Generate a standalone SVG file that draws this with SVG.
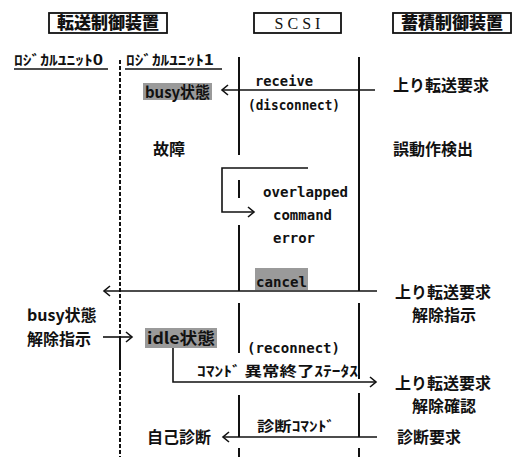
<svg xmlns="http://www.w3.org/2000/svg" width="523" height="457" viewBox="0 0 523 457">
<style>
.jp{font-family:"Noto Sans CJK JP","Noto Sans",sans-serif;font-weight:bold;font-size:16px;fill:#111}
.hd{font-family:"Noto Sans CJK JP",sans-serif;font-weight:900;font-size:17px;fill:#111}
.hk{font-family:"Noto Sans CJK JP",sans-serif;font-weight:bold;font-size:14px;fill:#111}
.mono{font-family:"DejaVu Sans Mono","Liberation Mono",monospace;font-size:14px;font-weight:bold;fill:#111}
.serif{font-family:"Liberation Serif",serif;font-size:16px;fill:#111}
.box{fill:#fff;stroke:#111;stroke-width:1.8}
.ln{fill:none;stroke:#111;stroke-width:1.6}
.life{fill:none;stroke:#111;stroke-width:2}
.dash{fill:none;stroke:#111;stroke-width:2;stroke-dasharray:4 2}
.hl{fill:#9a9a9a}
.conn{fill:none;stroke:#111;stroke-width:1.6;marker-end:url(#chev)}
</style>
<defs>
<marker id="chev" markerUnits="userSpaceOnUse" markerWidth="12" markerHeight="12" viewBox="-8 -6 10 12" refX="0" refY="0" orient="auto">
<path d="M-6,-5 L0,0 L-6,5" fill="none" stroke="#111" stroke-width="1.6"/>
</marker>
</defs>
<rect width="523" height="457" fill="#fff"/>

<g id="header-tensou">
<rect class="box" x="49" y="13" width="118" height="20"/>
<text class="hd" x="108" y="29" text-anchor="middle">転送制御装置</text>
</g>
<g id="header-scsi">
<rect class="box" x="254" y="13" width="87" height="20"/>
<text class="serif" x="297.5" y="29" text-anchor="middle">S C S I</text>
</g>
<g id="header-chikuseki">
<rect class="box" x="393" y="13" width="118" height="20"/>
<text class="hd" x="452" y="29" text-anchor="middle">蓄積制御装置</text>
</g>

<g id="lu0">
<text class="hk" x="14" y="65" textLength="89" lengthAdjust="spacingAndGlyphs">ﾛｼﾞｶﾙﾕﾆｯﾄ0</text>
<line class="ln" x1="14" y1="69" x2="108" y2="69"/>
</g>
<g id="lu1">
<text class="hk" x="126" y="65" textLength="88" lengthAdjust="spacingAndGlyphs">ﾛｼﾞｶﾙﾕﾆｯﾄ1</text>
<line class="ln" x1="125" y1="69" x2="222" y2="69"/>
</g>

<g id="lifelines">
<path class="dash" d="M120,60 V337 M120,366 V457"/>
<path class="life" d="M120,337 V366"/>
<path class="life" d="M239,57 V155 M239,180 V198 M239,225 V291 M239,303 V353 M239,395 V437 M239,448 V457"/>
<path class="life" d="M359,57 V291 M359,303 V379 M359,393 V437 M359,448 V457"/>
</g>

<g id="busy-state">
<rect class="hl" x="143" y="83" width="69" height="17"/>
<text class="jp" x="145" y="98" textLength="65" lengthAdjust="spacingAndGlyphs">busy状態</text>
</g>
<g id="req1"><text class="jp" x="393" y="91">上り転送要求</text></g>
<g id="fault"><text class="jp" x="153" y="155">故障</text></g>
<g id="misop"><text class="jp" x="393" y="155">誤動作検出</text></g>
<g id="cancel-state">
<rect class="hl" x="255" y="268" width="53" height="22"/>
<text class="mono" x="256" y="287" textLength="51" lengthAdjust="spacingAndGlyphs">cancel</text>
</g>
<g id="req2">
<text class="jp" x="395" y="298">上り転送要求</text>
<text class="jp" x="412" y="321">解除指示</text>
</g>
<g id="busy-release">
<text class="jp" x="27" y="321">busy状態</text>
<text class="jp" x="27" y="345">解除指示</text>
</g>
<g id="idle-state">
<rect class="hl" x="145" y="328" width="72" height="20"/>
<text class="jp" x="147" y="344" textLength="68" lengthAdjust="spacingAndGlyphs">idle状態</text>
</g>
<g id="req3">
<text class="jp" x="395" y="389">上り転送要求</text>
<text class="jp" x="412" y="412">解除確認</text>
</g>
<g id="selfdiag"><text class="jp" x="147" y="443">自己診断</text></g>
<g id="diagreq"><text class="jp" x="397" y="443">診断要求</text></g>

<g id="connectors">
<path class="conn" d="M375,90 H222"/>
<text class="mono" x="255" y="86" textLength="58" lengthAdjust="spacingAndGlyphs">receive</text>
<text class="mono" x="248" y="110" textLength="92" lengthAdjust="spacingAndGlyphs">(disconnect)</text>
<path class="conn" d="M308,168 H222 V212 H254"/>
<text class="mono" x="263" y="197" textLength="85" lengthAdjust="spacingAndGlyphs">overlapped</text>
<text class="mono" x="273" y="220" textLength="59" lengthAdjust="spacingAndGlyphs">command</text>
<text class="mono" x="273" y="243" textLength="42" lengthAdjust="spacingAndGlyphs">error</text>
<path class="conn" d="M377,291 H104"/>
<path class="conn" d="M103,337 H132"/>
<path class="conn" d="M173,348 V382 H376"/>
<text class="mono" x="247" y="353" textLength="93" lengthAdjust="spacingAndGlyphs">(reconnect)</text>
<text class="hk" x="197" y="376" textLength="161" lengthAdjust="spacingAndGlyphs">ｺﾏﾝﾄﾞ 異常終了ｽﾃｰﾀｽ</text>
<path class="conn" d="M377,437 H223"/>
<text class="hk" x="257" y="431" textLength="78" lengthAdjust="spacingAndGlyphs">診断ｺﾏﾝﾄﾞ</text>
</g>
</svg>
